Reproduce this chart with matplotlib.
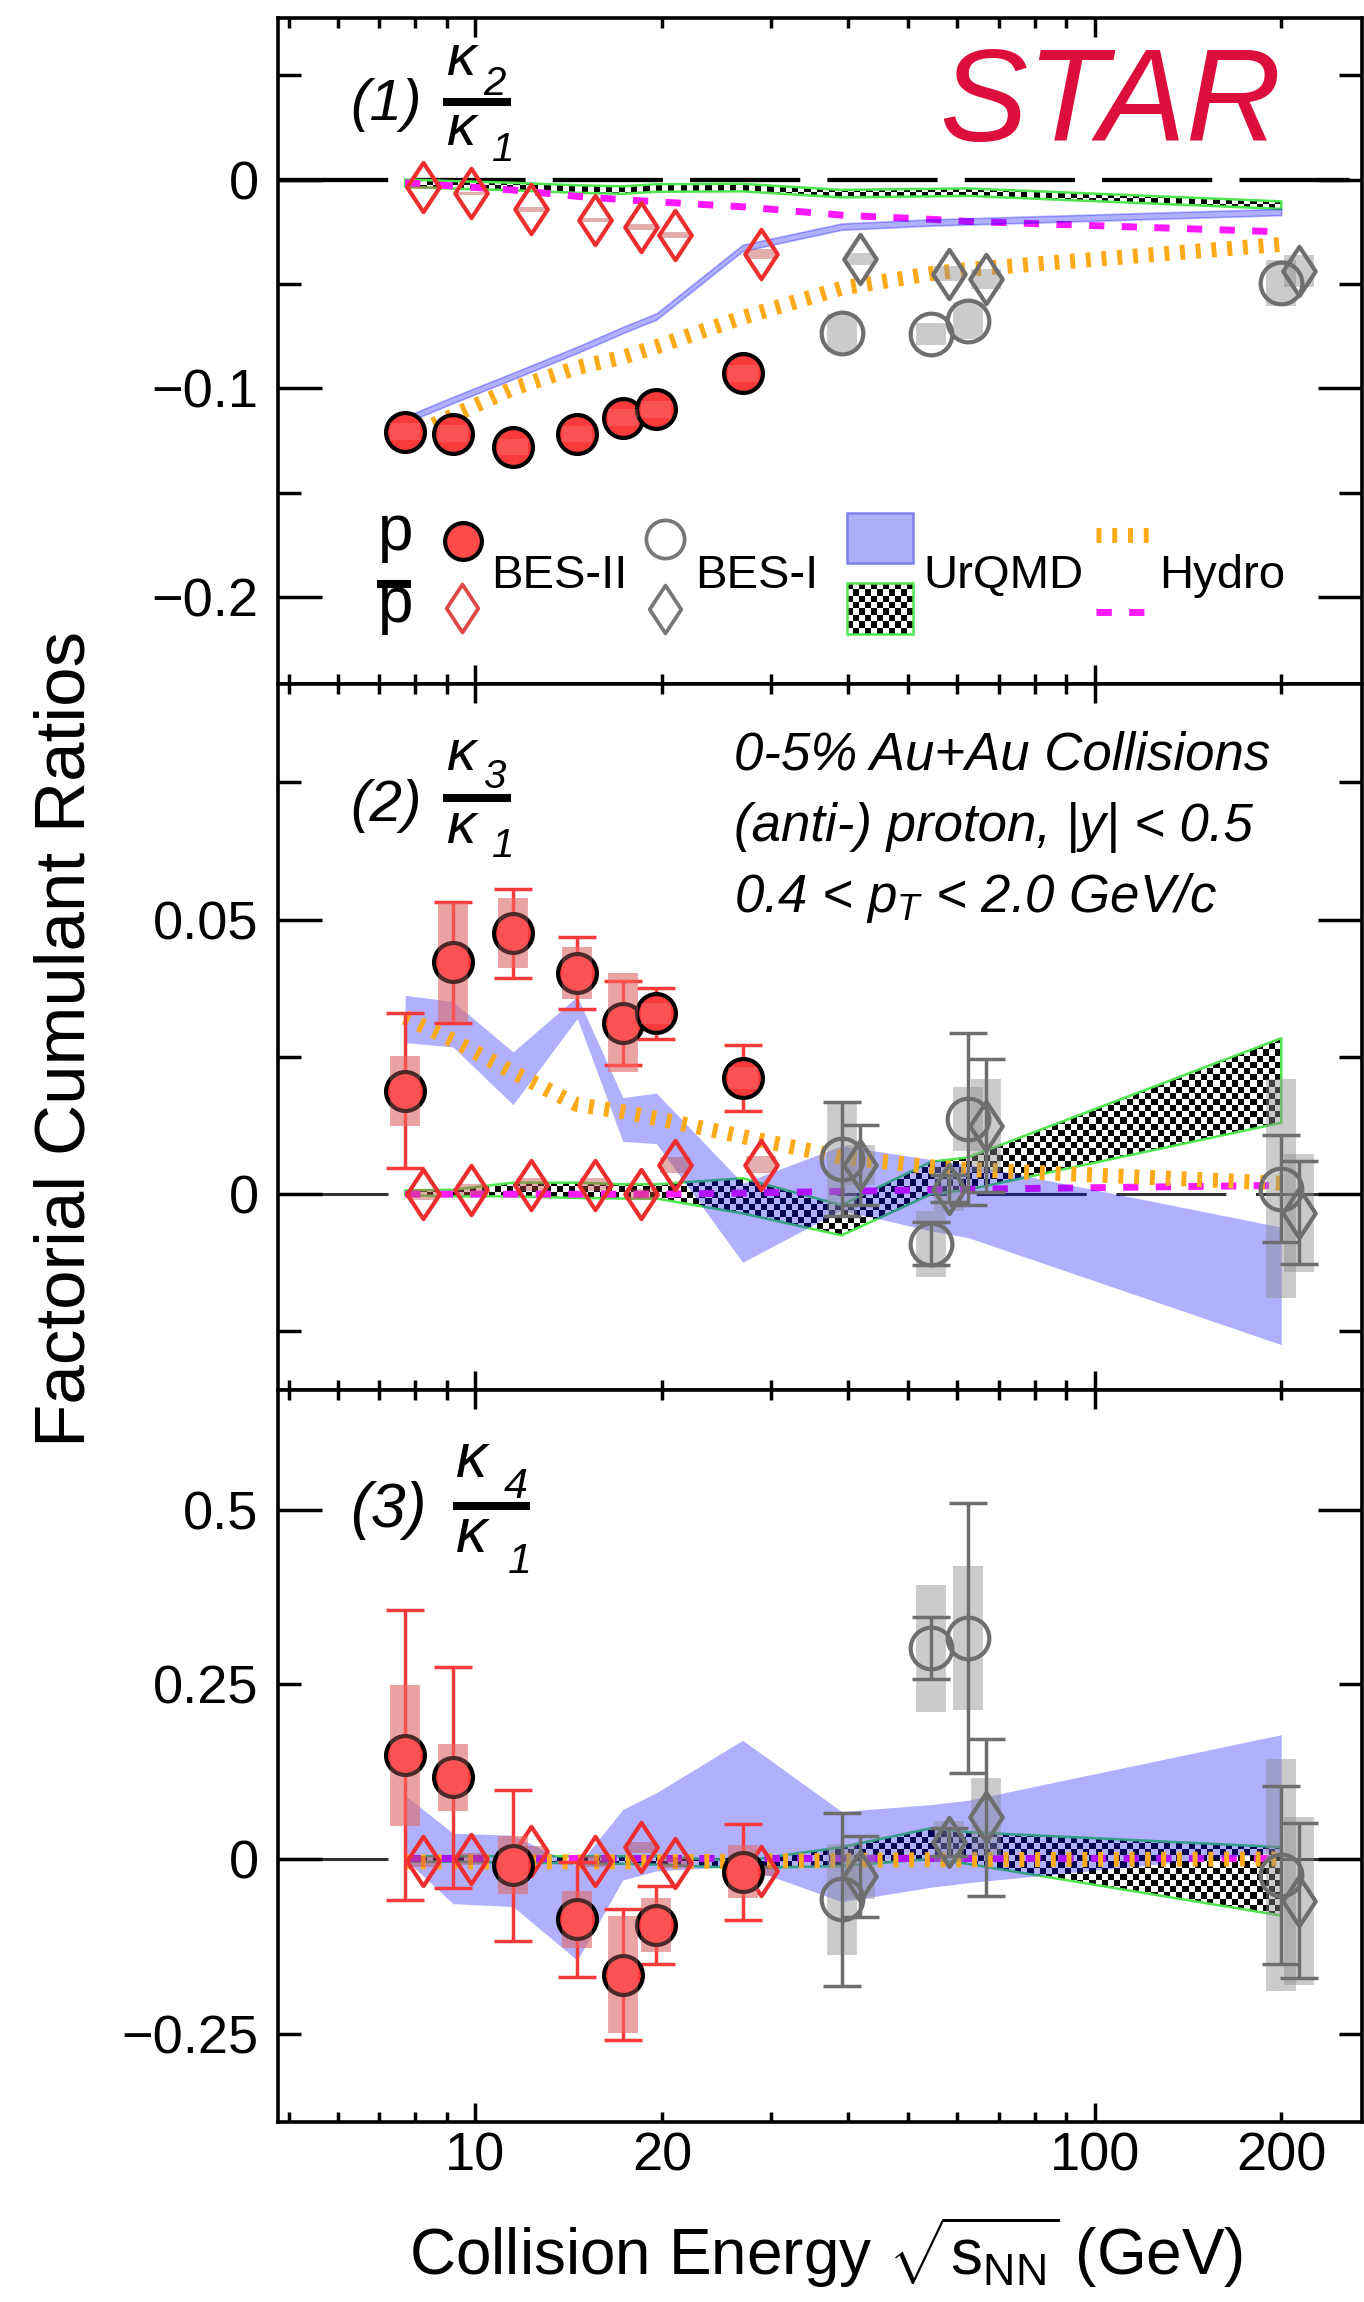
import numpy as np
import matplotlib
matplotlib.use('Agg')
import matplotlib.pyplot as plt
import matplotlib.ticker as mticker
from matplotlib.image import BboxImage
from matplotlib.transforms import Bbox, TransformedBbox
from matplotlib.colors import Normalize
from matplotlib.lines import Line2D
from matplotlib.patches import Rectangle
from matplotlib.path import Path

plt.rcParams['font.family'] = ['Liberation Sans', 'DejaVu Sans']
plt.rcParams['mathtext.fontset'] = 'custom'
plt.rcParams['mathtext.rm'] = 'Liberation Sans'
plt.rcParams['mathtext.it'] = 'Liberation Sans:italic'
plt.rcParams['mathtext.bf'] = 'Liberation Sans:bold'
plt.rcParams['axes.unicode_minus'] = True

# ---------------------------------------------------------------- data
energy_bes2 = [7.7, 9.2, 11.5, 14.6, 17.3, 19.6, 27.0]
energy_bes1 = [39.0, 54.4, 62.4, 200.0]
energy_model = [7.7, 9.2, 11.5, 14.6, 17.3, 19.6, 27.0, 39.0, 54.4, 62.4, 200.0]
x_tick_labels = {10: '10', 20: '20', 100: '100', 200: '200'}

# (1) kappa2 / kappa1
r21_p_bes2 = [-0.1207, -0.1217, -0.128, -0.1218, -0.114, -0.110, -0.0927]
r21_p_bes2_sys = [0.004, 0.004, 0.004, 0.004, 0.004, 0.004, 0.004]
r21_pbar_bes2 = [-0.0037, -0.0066, -0.0141, -0.0193, -0.0225, -0.0265, -0.0358]
r21_pbar_bes2_sys = [0.0008, 0.0008, 0.0012, 0.001, 0.0015, 0.0015, 0.0024]
r21_p_bes1 = [-0.0733, -0.0739, -0.0675, -0.0493]
r21_p_bes1_sys = [0.009, 0.0054, 0.009, 0.011]
r21_pbar_bes1 = [-0.038, -0.0451, -0.0476, -0.0438]
r21_pbar_bes1_sys = [0.003, 0.0036, 0.005, 0.0075]
r21_urqmd_p_lo = [-0.1165, -0.107, -0.0955, -0.083, -0.0735, -0.067, -0.0342, -0.024, -0.022, -0.0215, -0.017]
r21_urqmd_p_hi = [-0.1135, -0.104, -0.0925, -0.080, -0.0705, -0.064, -0.0312, -0.021, -0.019, -0.0185, -0.014]
r21_urqmd_pbar_lo = [-0.0035, -0.0043, -0.0051, -0.0063, -0.0068, -0.0058, -0.0056, -0.0085, -0.008, -0.0078, -0.014]
r21_urqmd_pbar_hi = [0.0001, -0.0007, -0.0015, -0.0027, -0.0032, -0.0022, -0.002, -0.0049, -0.0044, -0.0042, -0.0104]
r21_hydro_p = [-0.124, -0.113, -0.100, -0.090, -0.085, -0.080, -0.066, -0.052, -0.045, -0.043, -0.031]
r21_hydro_pbar = [-0.0015, -0.003, -0.005, -0.008, -0.0096, -0.0106, -0.013, -0.017, -0.019, -0.020, -0.025]

# (2) kappa3 / kappa1
r31_p_bes2 = [0.0188, 0.0422, 0.0475, 0.0403, 0.0312, 0.0329, 0.0211]
r31_p_bes2_stat = [0.0141, 0.011, 0.0081, 0.0066, 0.0077, 0.0047, 0.006]
r31_p_bes2_sys = [0.0063, 0.0109, 0.0064, 0.0047, 0.009, 0.002, 0.002]
r31_pbar_bes2 = [0.0, 0.0008, 0.0017, 0.0017, 0.0, 0.0053, 0.0054]
r31_pbar_bes2_sys = [0.001, 0.001, 0.0012, 0.0012, 0.001, 0.0015, 0.0016]
r31_p_bes1 = [0.0064, -0.009, 0.0137, 0.001]
r31_p_bes1_stat = [0.0104, 0.0039, 0.0157, 0.0098]
r31_p_bes1_sys = [0.0105, 0.006, 0.0058, 0.0199]
r31_pbar_bes1 = [0.0053, 0.001, 0.0125, -0.0034]
r31_pbar_bes1_stat = [0.0073, 0.0025, 0.0121, 0.0094]
r31_pbar_bes1_sys = [0.0036, 0.004, 0.0084, 0.0108]
r31_urqmd_p_lo = [0.0276, 0.0268, 0.0163, 0.032, 0.0096, 0.0092, -0.0124, -0.0029, -0.0067, -0.0079, -0.0274]
r31_urqmd_p_hi = [0.0362, 0.0351, 0.0259, 0.036, 0.0176, 0.0184, 0.002, 0.0088, 0.0063, 0.0054, -0.006]
r31_urqmd_pbar_lo = [-0.0002, -0.0004, -0.0004, -0.0007, -0.0008, -0.0008, -0.0035, -0.0075, 0.0, 0.0008, 0.013]
r31_urqmd_pbar_hi = [0.0007, 0.0008, 0.0021, 0.0021, 0.0018, 0.0018, 0.0029, -0.002, 0.0059, 0.0067, 0.0284]
r31_hydro_p = [0.0322, 0.028, 0.0222, 0.0163, 0.015, 0.0138, 0.0105, 0.0067, 0.005, 0.0045, 0.002]
r31_hydro_pbar = [0.0, 0.0, 0.0, 0.0, 0.0, 0.0, 0.0002, 0.0005, 0.0008, 0.0009, 0.0016]

# (3) kappa4 / kappa1
r41_p_bes2 = [0.1486, 0.1169, -0.0088, -0.0865, -0.1655, -0.0946, -0.0182]
r41_p_bes2_stat = [0.208, 0.158, 0.108, 0.082, 0.094, 0.056, 0.069]
r41_p_bes2_sys = [0.101, 0.048, 0.042, 0.041, 0.084, 0.039, 0.038]
r41_pbar_bes2 = [-0.003, 0.0, 0.011, -0.003, 0.017, -0.005, -0.017]
r41_pbar_bes2_sys = [0.008, 0.008, 0.008, 0.008, 0.008, 0.008, 0.008]
r41_p_bes1 = [-0.0578, 0.302, 0.3166, -0.023]
r41_p_bes1_stat = [0.1233, 0.044, 0.1936, 0.128]
r41_p_bes1_sys = [0.079, 0.091, 0.103, 0.166]
r41_pbar_bes1 = [-0.025, 0.025, 0.0598, -0.060]
r41_pbar_bes1_stat = [0.058, 0.02, 0.1125, 0.111]
r41_pbar_bes1_sys = [0.032, 0.029, 0.056, 0.12]
r41_urqmd_p_lo = [0.0, -0.064, -0.068, -0.145, -0.030, -0.017, -0.010, -0.061, -0.0405, -0.034, 0.010]
r41_urqmd_p_hi = [0.091, 0.037, 0.034, -0.010, 0.071, 0.095, 0.170, 0.068, 0.078, 0.084, 0.178]
r41_urqmd_pbar_lo = [-0.004, -0.004, -0.005, -0.006, -0.007, -0.008, -0.013, -0.010, 0.0, -0.007, -0.081]
r41_urqmd_pbar_hi = [0.004, 0.004, 0.004, 0.004, 0.004, 0.004, -0.003, 0.017, 0.044, 0.0385, 0.017]
r41_hydro_p = [-0.004, -0.004, -0.004, -0.004, -0.004, -0.004, -0.003, -0.002, -0.001, -0.001, 0.0]
r41_hydro_pbar = [0.001, 0.001, 0.001, 0.001, 0.001, 0.001, 0.001, 0.001, 0.001, 0.001, 0.001]

# ---------------------------------------------------------------- style
W, H = 1364, 2302
PBAR_SHIFT = 1.07
RED = '#F83A3A'
RED_EDGE = '#EE2E2E'
GRAY = '#6E6E6E'
RED_SYS = (0.75, 0.30, 0.30, 0.45)
RED_SYS_ON = (1.0, 0.55, 0.55, 0.30)
GRAY_SYS = (0.55, 0.55, 0.55, 0.45)
GREEN = '#50E650'
ORANGE = '#FFAA1A'
MAGENTA = '#FF19FF'
BLUE = (0.0, 0.0, 1.0)
BLUE_ALPHA = 0.31
STAR_RED = '#DC0F3C'
BOX_LW = 21.5
MS_RED = 28
MS_GRAY = 30
MS_DIAM = 35.5
MEW = 3.0
DIAMOND = Path([(0, 1), (0.66, 0), (0, -1), (-0.66, 0), (0, 1)],
               [Path.MOVETO, Path.LINETO, Path.LINETO, Path.LINETO, Path.CLOSEPOLY])
ORANGE_LS = (0, (0.33, 0.72))
MAGENTA_LS = (0, (2.2, 2.5))


def fx(x):
    return x / W


def fy(y):
    return 1.0 - y / H


fig = plt.figure(figsize=(W / 100, H / 100), dpi=100)
left, width = 278 / W, (1362 - 278) / W
ax1 = fig.add_axes([left, fy(684), width, (684 - 18) / H])
ax2 = fig.add_axes([left, fy(1390), width, (1390 - 684) / H])
ax3 = fig.add_axes([left, fy(2121.7), width, (2121.7 - 1390) / H])


def checker(parent, bbox, clip_path=None, clip_transform=None, cell=6.2, zorder=1.5):
    nx = max(1, int(round(bbox.width / cell)))
    ny = max(1, int(round(bbox.height / cell)))
    ii, jj = np.indices((ny, nx))
    arr = ((ii + jj) % 2).astype(float)
    im = BboxImage(bbox, cmap='gray', norm=Normalize(0, 1), interpolation='nearest', origin='upper')
    im.set_data(arr)
    if clip_path is not None:
        im.set_clip_path(clip_path, clip_transform)
    im.set_zorder(zorder)
    parent.add_artist(im)
    return im


def yfmt(v, pos):
    if abs(v) < 1e-12:
        return '0'
    s = ('%.3f' % v).rstrip('0').rstrip('.')
    return s.replace('-', '\u2212')


def xfmt(v, pos):
    return x_tick_labels.get(int(round(v)), '')


def style_axes(ax, ylim, ymaj, ymin, minor_labels=False, bottom=False):
    ax.set_xscale('log')
    ax.set_xlim(4.8, 270)
    ax.set_ylim(*ylim)
    ax.xaxis.set_major_locator(mticker.FixedLocator([10, 100]))
    ax.xaxis.set_minor_locator(mticker.FixedLocator([5, 6, 7, 8, 9, 20, 30, 40, 50, 60, 70, 80, 90, 200]))
    if bottom:
        ax.xaxis.set_major_formatter(mticker.FuncFormatter(xfmt))
        ax.xaxis.set_minor_formatter(mticker.FuncFormatter(xfmt))
    else:
        ax.xaxis.set_major_formatter(mticker.NullFormatter())
        ax.xaxis.set_minor_formatter(mticker.NullFormatter())
    ax.yaxis.set_major_locator(mticker.FixedLocator(ymaj))
    ax.yaxis.set_minor_locator(mticker.FixedLocator(ymin))
    ax.yaxis.set_major_formatter(mticker.FuncFormatter(yfmt))
    ax.yaxis.set_minor_formatter(mticker.FuncFormatter(yfmt) if minor_labels else mticker.NullFormatter())
    ax.tick_params(which='both', direction='in', top=True, right=True, width=2.5,
                   color='black', labelsize=39)
    ax.tick_params(axis='y', which='major', length=32, pad=14)
    ax.tick_params(axis='y', which='minor', length=16.5, pad=14)
    ax.tick_params(axis='x', which='major', length=13.7, pad=7)
    ax.tick_params(axis='x', which='minor', length=7.2, pad=7)
    for sp in ax.spines.values():
        sp.set_linewidth(2.6)
    ax.set_autoscale_on(False)


def draw_models(ax, up_lo, up_hi, upb_lo, upb_hi, hp, hpb, thin=False):
    poly = ax.fill_between(energy_model, upb_lo, upb_hi, facecolor='none', edgecolor=GREEN,
                           linewidth=1.8, zorder=1.6)
    checker(ax, ax.bbox, poly.get_paths()[0], ax.transData)
    ax.plot(energy_model, hpb, color=MAGENTA, lw=5, ls=MAGENTA_LS, dash_capstyle='butt', zorder=1.7)
    ax.fill_between(energy_model, up_lo, up_hi, facecolor=BLUE, edgecolor=BLUE, alpha=BLUE_ALPHA,
                    linewidth=(1.2 if thin else 0), zorder=1.8)
    ax.plot(energy_model, hp, color=ORANGE, lw=10.8, ls=ORANGE_LS, dash_capstyle='butt', zorder=1.9)


def sys_boxes(ax, x, y, s, color, z):
    y = np.asarray(y)
    s = np.asarray(s)
    lc = ax.vlines(x, y - s, y + s, colors=[color], linewidth=BOX_LW, zorder=z)
    lc.set_capstyle('butt')


def stat_bars(ax, x, y, e, color):
    ax.errorbar(x, y, yerr=e, fmt='none', ecolor=color, elinewidth=2.5, capsize=14,
                capthick=2.5, zorder=3)


def draw_data(ax, p2, p2s, pb2, pb2s, p1, p1s, pb1, pb1s,
              p2e=None, pb2e=None, p1e=None, pb1e=None):
    xb2 = np.asarray(energy_bes2) * PBAR_SHIFT
    xb1 = np.asarray(energy_bes1) * PBAR_SHIFT
    # antiproton BES-II
    sys_boxes(ax, xb2, pb2, pb2s, RED_SYS, 2.5)
    if pb2e is not None:
        stat_bars(ax, xb2, pb2, pb2e, RED)
    ax.plot(xb2, pb2, ls='none', marker=DIAMOND, ms=MS_DIAM, mfc='none', mec=RED_EDGE, mew=MEW, zorder=4)
    # BES-I
    sys_boxes(ax, energy_bes1, p1, p1s, GRAY_SYS, 2.5)
    sys_boxes(ax, xb1, pb1, pb1s, GRAY_SYS, 2.5)
    if p1e is not None:
        stat_bars(ax, energy_bes1, p1, p1e, GRAY)
    if pb1e is not None:
        stat_bars(ax, xb1, pb1, pb1e, GRAY)
    ax.plot(energy_bes1, p1, ls='none', marker='o', ms=MS_GRAY, mfc='none', mec=GRAY, mew=MEW, zorder=4)
    ax.plot(xb1, pb1, ls='none', marker=DIAMOND, ms=MS_DIAM, mfc='none', mec=GRAY, mew=MEW, zorder=4)
    # proton BES-II
    sys_boxes(ax, energy_bes2, p2, p2s, RED_SYS, 2.6)
    if p2e is not None:
        stat_bars(ax, energy_bes2, p2, p2e, RED)
    ax.plot(energy_bes2, p2, ls='none', marker='o', ms=MS_RED, mfc=RED, mec='black', mew=MEW, zorder=4.2)
    sys_boxes(ax, energy_bes2, p2, p2s, RED_SYS_ON, 4.5)


# ---------------------------------------------------------------- panels
style_axes(ax1, (-0.2415, 0.0774), [-0.2, -0.1, 0.0], [-0.15, -0.05, 0.05])
style_axes(ax2, (-0.03566, 0.0929), [0.0, 0.05], [-0.025, 0.025, 0.075])
style_axes(ax3, (-0.3761, 0.6715), [0.0, 0.5], [-0.25, 0.25], minor_labels=True, bottom=True)

ax1.axhline(0, color='black', lw=3.1, ls=(0, (25.6, 6.3)), zorder=1.0)
ax2.axhline(0, color='#333333', lw=2.2, ls=(0, (36, 9.7)), zorder=1.0)
ax3.axhline(0, color='#333333', lw=2.2, ls=(0, (36, 9.7)), zorder=1.0)

draw_models(ax1, r21_urqmd_p_lo, r21_urqmd_p_hi, r21_urqmd_pbar_lo, r21_urqmd_pbar_hi,
            r21_hydro_p, r21_hydro_pbar, thin=True)
draw_models(ax2, r31_urqmd_p_lo, r31_urqmd_p_hi, r31_urqmd_pbar_lo, r31_urqmd_pbar_hi,
            r31_hydro_p, r31_hydro_pbar)
draw_models(ax3, r41_urqmd_p_lo, r41_urqmd_p_hi, r41_urqmd_pbar_lo, r41_urqmd_pbar_hi,
            r41_hydro_p, r41_hydro_pbar)

draw_data(ax1, r21_p_bes2, r21_p_bes2_sys, r21_pbar_bes2, r21_pbar_bes2_sys,
          r21_p_bes1, r21_p_bes1_sys, r21_pbar_bes1, r21_pbar_bes1_sys)
draw_data(ax2, r31_p_bes2, r31_p_bes2_sys, r31_pbar_bes2, r31_pbar_bes2_sys,
          r31_p_bes1, r31_p_bes1_sys, r31_pbar_bes1, r31_pbar_bes1_sys,
          p2e=r31_p_bes2_stat, p1e=r31_p_bes1_stat, pb1e=r31_pbar_bes1_stat)
draw_data(ax3, r41_p_bes2, r41_p_bes2_sys, r41_pbar_bes2, r41_pbar_bes2_sys,
          r41_p_bes1, r41_p_bes1_sys, r41_pbar_bes1, r41_pbar_bes1_sys,
          p2e=r41_p_bes2_stat, p1e=r41_p_bes1_stat, pb1e=r41_pbar_bes1_stat)

# ---------------------------------------------------------------- texts
fig.text(fx(67), fy(1039), 'Factorial Cumulant Ratios', rotation=90, ha='center', va='center',
         fontsize=51)
fig.text(fx(826), fy(2275), r'Collision Energy $\sqrt{\mathrm{s}_{\mathrm{NN}}}$ (GeV)',
         ha='center', va='baseline', fontsize=46)

fig.text(fx(1282), fy(141), 'STAR', color=STAR_RED, fontsize=95, style='italic',
         ha='right', va='baseline')

for txt, yb in [('0-5% Au+Au Collisions', 770),
                ('(anti-) proton, |y| < 0.5', 841),
                ('0.4 < $p_{T}$ < 2.0 GeV/c', 912)]:
    fig.text(fx(734), fy(yb), txt, fontsize=38, style='italic', ha='left', va='baseline')


def frac_label(tag, sub, x_par, y_par, x_k, y_k_top, y_sub_top, x_sub_top, y_bar, x_bar0, x_bar1,
               y_k_bot, x_sub_bot, y_sub_bot, s_par, s_k, s_sub):
    fig.text(fx(x_par), fy(y_par), tag, fontsize=s_par, style='italic', ha='left', va='baseline')
    fig.text(fx(x_k), fy(y_k_top), '\u03ba', fontsize=s_k, style='italic', ha='left', va='baseline')
    fig.text(fx(x_sub_top), fy(y_sub_top), sub, fontsize=s_sub, style='italic', ha='left', va='baseline')
    fig.add_artist(Line2D([fx(x_bar0), fx(x_bar1)], [fy(y_bar), fy(y_bar)], transform=fig.transFigure,
                          color='black', lw=5.8, solid_capstyle='butt'))
    fig.text(fx(x_k), fy(y_k_bot), '\u03ba', fontsize=s_k, style='italic', ha='left', va='baseline')
    fig.text(fx(x_sub_bot), fy(y_sub_bot), '1', fontsize=s_sub, style='italic', ha='left', va='baseline')


frac_label('(1)', '2', 350, 120, 446, 75, 95, 483, 102, 443, 511, 145, 492, 161, 42, 42, 29)
frac_label('(2)', '3', 350, 821, 446, 770, 788, 483, 798, 443, 511, 843, 492, 857, 42, 42, 29)
frac_label('(3)', '4', 350, 1527, 456, 1477, 1498, 504, 1506, 453, 530, 1552, 508, 1573, 45, 45, 31)

# ---------------------------------------------------------------- legend (panel 1)
fig.text(fx(378), fy(550), 'p', fontsize=46, ha='left', va='baseline')
fig.text(fx(378), fy(622), 'p', fontsize=46, ha='left', va='baseline')
fig.add_artist(Line2D([fx(377), fx(411)], [fy(584), fy(584)], transform=fig.transFigure,
                      color='black', lw=5.8, solid_capstyle='butt'))

fig.add_artist(Line2D([fx(463)], [fy(541)], transform=fig.transFigure, ls='none', marker='o',
                      ms=26.5, mfc='#FF4A4A', mec='black', mew=MEW))
fig.add_artist(Line2D([fx(462)], [fy(608)], transform=fig.transFigure, ls='none', marker=DIAMOND,
                      ms=34.5, mfc='none', mec='#E04848', mew=2.7))
fig.add_artist(Line2D([fx(665)], [fy(539)], transform=fig.transFigure, ls='none', marker='o',
                      ms=27.5, mfc='none', mec='#777777', mew=2.7))
fig.add_artist(Line2D([fx(665)], [fy(609)], transform=fig.transFigure, ls='none', marker=DIAMOND,
                      ms=34.5, mfc='none', mec='#777777', mew=2.7))

fig.add_artist(Rectangle((fx(847), fy(563)), fx(913) - fx(847), fy(513) - fy(563),
                         transform=fig.transFigure, facecolor=(0.69, 0.69, 0.98),
                         edgecolor=(0.5, 0.5, 0.93), lw=1.8))
leg_bbox = TransformedBbox(Bbox.from_extents(fx(847), fy(634), fx(913), fy(583)), fig.transFigure)
checker(fig, leg_bbox, cell=6.2, zorder=2)
fig.add_artist(Rectangle((fx(847), fy(634)), fx(913) - fx(847), fy(583) - fy(634),
                         transform=fig.transFigure, facecolor='none', edgecolor=GREEN, lw=1.8,
                         zorder=3))

fig.add_artist(Line2D([fx(1096), fx(1150)], [fy(535), fy(535)], transform=fig.transFigure,
                      color=ORANGE, lw=10.8, ls=ORANGE_LS, dash_capstyle='butt'))
fig.add_artist(Line2D([fx(1096), fx(1150)], [fy(612), fy(612)], transform=fig.transFigure,
                      color=MAGENTA, lw=5, ls=MAGENTA_LS, dash_capstyle='butt'))

for txt, xl in [('BES-II', 491), ('BES-I', 695), ('UrQMD', 923), ('Hydro', 1159)]:
    fig.text(fx(xl), fy(588), txt, fontsize=34, ha='left', va='baseline')

fig.savefig('out.png', dpi=100)
